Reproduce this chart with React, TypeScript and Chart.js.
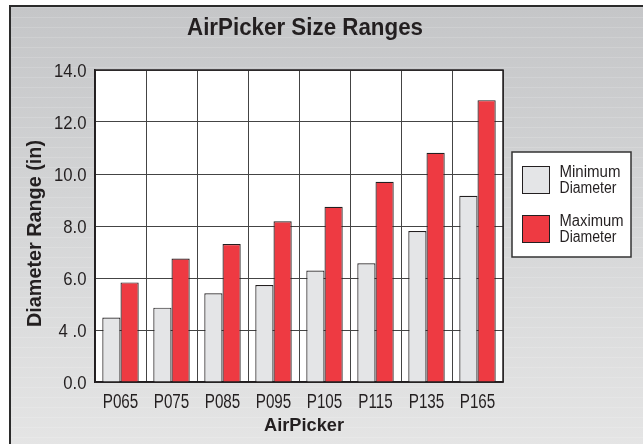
import React, { useEffect, useRef } from "react";
import { Chart, registerables } from "chart.js";

Chart.register(...registerables);

const categories = ["P065", "P075", "P085", "P095", "P105", "P115", "P135", "P165"];
const minDiameter = [4.48, 4.86, 5.41, 5.73, 6.29, 6.57, 7.81, 9.16];
const maxDiameter = [5.83, 6.75, 7.31, 8.18, 8.74, 9.7, 10.82, 12.84];
const yTickValues = [2, 4, 6, 8, 10, 12, 14];
const yTickLabels = ["0.0", "4 .0", "6.0", "8.0", "10.0", "12.0", "14.0"];
const seriesLabels = [
  ["Minimum", "Diameter"],
  ["Maximum", "Diameter"],
];
const chartTitle = "AirPicker Size Ranges";
const xAxisTitle = "AirPicker";
const yAxisTitle = "Diameter Range (in)";

const SANS = '"Liberation Sans", Arial, sans-serif';
const MIN_COLOR = "#e4e5e7";
const MAX_COLOR = "#ee3a42";
const INK = "#231f20";

function drawScaled(
  ctx: CanvasRenderingContext2D,
  text: string,
  x: number,
  y: number,
  font: string,
  sx: number,
  align: CanvasTextAlign
) {
  ctx.save();
  ctx.font = font;
  ctx.translate(x, y);
  ctx.scale(sx, 1);
  ctx.textAlign = align;
  ctx.textBaseline = "alphabetic";
  ctx.fillStyle = INK;
  ctx.fillText(text, 0, 0);
  ctx.restore();
}

function fitText(
  ctx: CanvasRenderingContext2D,
  text: string,
  x: number,
  y: number,
  font: string,
  width: number,
  align: CanvasTextAlign
) {
  ctx.save();
  ctx.font = font;
  const w = ctx.measureText(text).width;
  ctx.restore();
  drawScaled(ctx, text, x, y, font, width / w, align);
}

const decorPlugin = {
  id: "decor",
  beforeDraw(chart: any) {
    const { ctx, chartArea: a } = chart;
    ctx.save();
    ctx.fillStyle = "#ffffff";
    ctx.fillRect(a.left, a.top, a.right - a.left, a.bottom - a.top);
    ctx.restore();
  },
  afterDraw(chart: any) {
    const { ctx, chartArea: a } = chart;
    ctx.save();
    ctx.strokeStyle = INK;
    ctx.lineWidth = 1.5;
    ctx.strokeRect(a.left, a.top, a.right - a.left, a.bottom - a.top);
    ctx.restore();

    // tick labels, positioned by the chart's own scales
    const xs = chart.scales.x;
    const ys = chart.scales.y;
    xs.ticks.forEach((t: any, i: number) => {
      const px = xs.getPixelForTick(i);
      const lbl = categories[t.value] ?? String(t.label);
      drawScaled(ctx, lbl, px, 407.5, `19.5px ${SANS}`, 0.78, "center");
    });
    ys.ticks.forEach((t: any) => {
      const py = ys.getPixelForValue(t.value);
      const i = yTickValues.indexOf(Number(t.value));
      if (i < 0) return;
      drawScaled(ctx, yTickLabels[i], 86.5, py + 7, `19px ${SANS}`, 0.88, "right");
    });

    // title
    fitText(ctx, chartTitle, 305, 35, `bold 23px ${SANS}`, 236, "center");
    // x axis title
    fitText(ctx, xAxisTitle, 304, 431, `bold 19px ${SANS}`, 80, "center");
    // y axis title (rotated)
    ctx.save();
    ctx.translate(41, 233.5);
    ctx.rotate(-Math.PI / 2);
    fitText(ctx, yAxisTitle, 0, 0, `bold 21px ${SANS}`, 187, "center");
    ctx.restore();

    // legend
    const lx = 512, ly = 152, lw = 119, lh = 105;
    ctx.save();
    ctx.fillStyle = "#ffffff";
    ctx.fillRect(lx, ly, lw, lh);
    ctx.strokeStyle = "#333";
    ctx.lineWidth = 1.5;
    ctx.strokeRect(lx, ly, lw, lh);
    const colors = [MIN_COLOR, MAX_COLOR];
    const swY = [166, 215];
    const widths = [
      [61, 57],
      [64, 57],
    ];
    for (let i = 0; i < 2; i++) {
      ctx.fillStyle = colors[i];
      ctx.fillRect(522.5, swY[i], 27, 27);
      ctx.strokeStyle = INK;
      ctx.lineWidth = 1;
      ctx.strokeRect(522.5, swY[i] + 0.5, 27, 27);
      fitText(ctx, seriesLabels[i][0], 559.5, swY[i] + 11, `16px ${SANS}`, widths[i][0], "left");
      fitText(ctx, seriesLabels[i][1], 559.5, swY[i] + 27, `16px ${SANS}`, widths[i][1], "left");
    }
    ctx.restore();
  },
};

export default function App() {
  const ref = useRef<HTMLCanvasElement | null>(null);
  useEffect(() => {
    if (!ref.current) return;
    const chart = new Chart(ref.current, {
      type: "bar",
      data: {
        labels: categories,
        datasets: [
          {
            label: seriesLabels[0].join(" "),
            data: minDiameter,
            backgroundColor: MIN_COLOR,
            borderColor: INK,
            borderWidth: 1.2,
            categoryPercentage: 0.714,
            barPercentage: 1,
          },
          {
            label: seriesLabels[1].join(" "),
            data: maxDiameter,
            backgroundColor: MAX_COLOR,
            borderColor: INK,
            borderWidth: 1.2,
            categoryPercentage: 0.714,
            barPercentage: 1,
          },
        ],
      },
      options: {
        responsive: false,
        devicePixelRatio: 1,
        animation: false,
        layout: { padding: { top: 70, left: 0, right: 140, bottom: 0 } },
        plugins: { legend: { display: false }, tooltip: { enabled: false }, title: { display: false } },
        scales: {
          x: {
            grid: { color: "#444", lineWidth: 1, drawTicks: false, offset: true },
            border: { display: true, color: INK, width: 1.5 },
            ticks: { display: false, autoSkip: false, maxRotation: 0 },
            afterFit: (s: any) => {
              s.height = 62;
            },
          },
          y: {
            min: 2,
            max: 14,
            afterBuildTicks: (s: any) => {
              s.ticks = yTickValues.map((v) => ({ value: v }));
            },
            grid: { color: "#444", lineWidth: 1, drawTicks: false },
            border: { display: true, color: INK, width: 1.5 },
            ticks: { display: false },
            afterFit: (s: any) => {
              s.width = 95;
            },
          },
        },
      },
      plugins: [decorPlugin],
    } as any);
    return () => chart.destroy();
  }, []);

  return (
    <div style={{ position: "fixed", left: 0, top: 0, width: 643, height: 444, background: "#fff", overflow: "hidden" }}>
      <div
        style={{
          position: "absolute",
          left: 9,
          top: 5,
          width: 660,
          height: 460,
          borderTop: "2px solid #2b2b2b",
          borderLeft: "2px solid #2b2b2b",
          background:
            "repeating-linear-gradient(to bottom, rgba(255,255,255,0.14) 0px, rgba(255,255,255,0.14) 1px, rgba(255,255,255,0) 1px, rgba(255,255,255,0) 10px), linear-gradient(to bottom, #c5c6c8 0%, #d6d7d8 50%, #e6e6e6 100%)",
        }}
      />
      <canvas ref={ref} width={643} height={444} style={{ position: "absolute", left: 0, top: 0, width: 643, height: 444 }} />
    </div>
  );
}
